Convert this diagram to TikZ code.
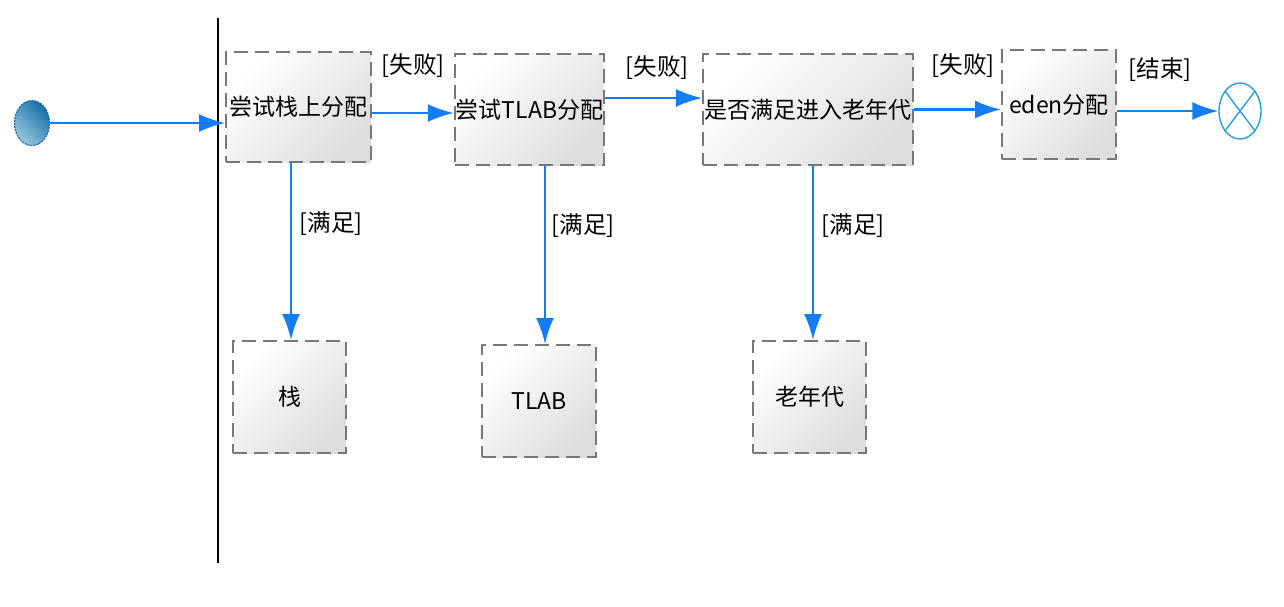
\documentclass[tikz,border=0pt]{standalone}
\usepackage{fontspec}
\setmainfont{Noto Sans CJK SC}
\usetikzlibrary{arrows.meta,shapes.geometric,positioning}
\definecolor{flowblue}{RGB}{20,125,245}
\definecolor{boxgray}{RGB}{120,120,120}
\definecolor{endblue}{RGB}{40,160,215}
\definecolor{startlight}{RGB}{150,200,220}
\definecolor{startdark}{RGB}{25,110,170}

\tikzset{
  act/.style={draw=boxgray,dash pattern=on 7pt off 3.5pt,line width=1pt,
    top color=white,bottom color=black!13,shading angle=45,inner sep=0.5pt,
    font=\fontsize{11.5}{13}\selectfont},
  flow/.style={draw=flowblue,line width=1.1pt,-{Latex[length=13pt,width=9pt]}},
  guard/.style={font=\fontsize{11.8}{13}\selectfont},
}

\begin{document}
\begin{tikzpicture}[x=0.5pt,y=-0.5pt]
\useasboundingbox (0,0) rectangle (1284,606);
% swimlane separator
\draw[line width=0.6pt] (218,18) -- (218,563);

  \node[ellipse,draw=startdark,dash pattern=on 1pt off 0.5pt,line width=0.6pt,inner sep=0pt,
        minimum width=17.5pt,minimum height=22.5pt,
        left color=startlight,right color=startdark,shading angle=135] (start) at (32,123) {};
  \node[act,minimum width=72.5pt,minimum height=55pt]   (stack)  at (298.5,107) {尝试栈上分配};
  \node[act,minimum width=72.5pt,minimum height=55.5pt] (tlab)   at (529.5,109.5) {尝试TLAB分配};
  \node[act,minimum width=105pt,minimum height=55.5pt]  (old)    at (808,109.5) {是否满足进入老年代};
  \node[act,minimum width=57pt,minimum height=54.5pt]   (eden)   at (1059,104.5) {eden分配};
  \node[ellipse,draw=endblue,fill=white,line width=0.7pt,inner sep=0pt,
        minimum width=21pt,minimum height=28pt] (stop) at (1240,111) {};
  \draw[endblue,line width=0.7pt] (stop.north west) -- (stop.south east)
                                  (stop.north east) -- (stop.south west);

  \node[act,minimum width=56.5pt,minimum height=56pt] (onstack) at (289.5,397) {栈};
  \node[act,minimum width=57pt,minimum height=56pt]   (ontlab)  at (539,401) {TLAB};
  \node[act,minimum width=56.5pt,minimum height=56pt] (onold)   at (809.5,397) {老年代};

% guards
  \node[guard] (fail1) at (413,66)  {[失败]};
  \node[guard] (fail2) at (657,68)  {[失败]};
  \node[guard] (fail3) at (963,66)  {[失败]};
  \node[guard] (done)  at (1160,70) {[结束]};
  \node[guard] (ok1)   at (331,224) {[满足]};
  \node[guard] (ok2)   at (583,226) {[满足]};
  \node[guard] (ok3)   at (853,226) {[满足]};

% flows
  \draw[flow] (start) -- (start -| stack.west);
  \draw[flow] ([yshift=-3pt]stack.east) -- ([yshift=-3pt]stack.east -| tlab.west);
  \draw[flow] ([yshift=5.75pt]tlab.east) -- ([yshift=5.75pt]tlab.east -| old.west);
  \draw[flow] (old.east) -- (old.east -| eden.west);
  \draw[flow] (stop.west -| eden.east) -- (stop.west);
  \draw[flow] ([xshift=0.75pt]stack.south -| onstack.north) -- ([xshift=0.75pt]onstack.north);
  \draw[flow] ([xshift=3pt]ontlab.north |- tlab.south) -- ([xshift=3pt]ontlab.north);
  \draw[flow] ([xshift=1.75pt]onold.north |- old.south) -- ([xshift=1.75pt]onold.north);
\end{tikzpicture}
\end{document}
